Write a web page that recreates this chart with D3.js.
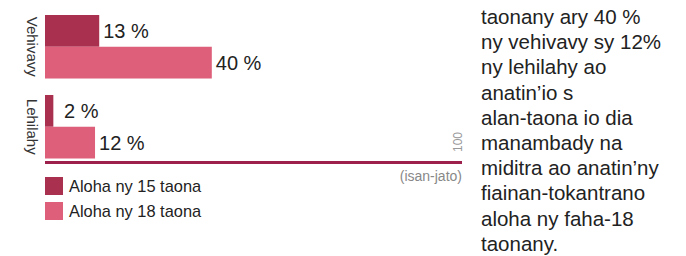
<!DOCTYPE html>
<html>
<head>
<meta charset="utf-8">
<script src="https://cdn.jsdelivr.net/npm/d3@7"></script>
<style>
  body { margin: 0; background: #fff; }
  svg { display: block; font-family: "Liberation Sans", Arial, sans-serif; }
</style>
</head>
<body>
<div id="chart"></div>
<script>
// data
const categories = ['Vehivavy', 'Lehilahy'];
const seriesNames = ['Aloha ny 15 taona', 'Aloha ny 18 taona'];
const before15 = [13, 2];
const before18 = [40, 12];
const axisMaxLabel = '100';
const unitLabel = '(isan-jato)';
const noteLines = [
    'taonany ary 40 %',
    'ny vehivavy sy 12%',
    'ny lehilahy ao',
    'anatin\u2019io s',
    'alan-taona io dia',
    'manambady na',
    'miditra ao anatin\u2019ny',
    'fiainan-tokantrano',
    'aloha ny faha-18',
    'taonany.'
];

const colors = ['#a9314f', '#dd5f79'];

const width = 686, height = 256;
const svg = d3.select('#chart').append('svg')
    .attr('width', width)
    .attr('height', height);

const x = d3.scaleLinear().domain([0, 100]).range([45, 462]);

const y0 = d3.scaleBand()
    .domain(categories)
    .range([15, 158.5])
    .paddingInner(0.206)
    .paddingOuter(0);

const y1 = d3.scaleBand()
    .domain(seriesNames)
    .range([0, y0.bandwidth()]);

const rows = categories.map((c, i) => ({
    cat: c,
    values: [
        { name: seriesNames[0], v: before15[i] },
        { name: seriesNames[1], v: before18[i] }
    ]
}));

const groups = svg.selectAll('g.group')
    .data(rows)
    .enter().append('g')
    .attr('class', 'group')
    .attr('transform', d => `translate(0,${y0(d.cat)})`);

groups.selectAll('rect')
    .data(d => d.values)
    .enter().append('rect')
    .attr('x', x(0))
    .attr('y', d => y1(d.name))
    .attr('width', d => x(d.v) - x(0))
    .attr('height', y1.bandwidth())
    .attr('fill', (d, i) => colors[i]);

// value labels (small bars get pushed out a bit)
groups.selectAll('text.val')
    .data(d => d.values)
    .enter().append('text')
    .attr('class', 'val')
    .attr('x', d => Math.max(x(d.v), x(3.6)) + 4)
    .attr('y', d => y1(d.name) + y1.bandwidth() / 2)
    .attr('dy', '0.35em')
    .attr('font-size', 20)
    .attr('fill', '#222')
    .text(d => d.v + ' %');

// category labels, rotated
groups.append('text')
    .attr('transform', d => `translate(32,${y0.bandwidth() / 2}) rotate(90)`)
    .attr('text-anchor', 'middle')
    .attr('dy', '0.35em')
    .attr('font-size', 15)
    .attr('fill', '#333')
    .text(d => d.cat);

// baseline axis
svg.append('line')
    .attr('x1', x(0))
    .attr('x2', x(100))
    .attr('y1', 162.5)
    .attr('y2', 162.5)
    .attr('stroke', '#9c1f4c')
    .attr('stroke-width', 3);

svg.append('text')
    .attr('transform', `translate(${x(100) - 4},142) rotate(-90)`)
    .attr('text-anchor', 'middle')
    .attr('dy', '0.35em')
    .attr('font-size', 12)
    .attr('fill', '#999')
    .text(axisMaxLabel);

svg.append('text')
    .attr('x', x(100))
    .attr('y', 181)
    .attr('text-anchor', 'end')
    .attr('font-size', 14)
    .attr('fill', '#888')
    .text(unitLabel);

// legend
const legend = svg.selectAll('g.legend')
    .data(seriesNames)
    .enter().append('g')
    .attr('class', 'legend')
    .attr('transform', (d, i) => `translate(45,${177 + i * 25})`);

legend.append('rect')
    .attr('width', 18)
    .attr('height', 18)
    .attr('fill', (d, i) => colors[i]);

legend.append('text')
    .attr('x', 24)
    .attr('y', 9)
    .attr('dy', '0.35em')
    .attr('font-size', 16.4)
    .attr('fill', '#222')
    .text(d => d);

// side note
svg.append('text')
    .attr('font-size', 20.5)
    .attr('fill', '#222')
    .selectAll('tspan')
    .data(noteLines)
    .enter().append('tspan')
    .attr('x', 481)
    .attr('y', (d, i) => 24 + i * 25.2)
    .text(d => d);
</script>
</body>
</html>
